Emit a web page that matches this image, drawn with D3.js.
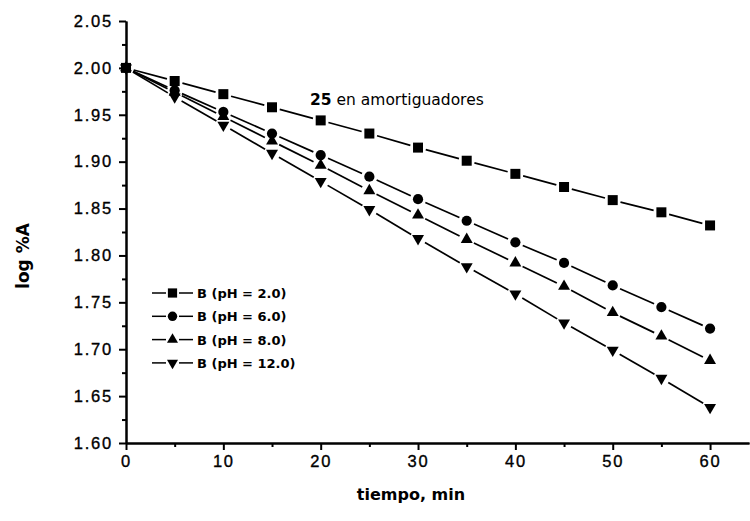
<!DOCTYPE html>
<html lang="es">
<head>
  <meta charset="UTF-8">
  <title>25 en amortiguadores</title>
  <script src="https://d3js.org/d3.v7.min.js"></script>
  <style>
    body { margin: 0; background: #fff; }
    svg { display: block; font-family: 'DejaVu Sans', sans-serif; }
    .axis text { font-size: 16.5px; letter-spacing: 1.8px; fill: #000; stroke: #000; stroke-width: 0.35px; }
    .axis path, .axis line { stroke: #000; stroke-width: 2; }
    .legend text { font-size: 13px; font-weight: bold; fill: #000; }
  </style>
</head>
<body>

<svg width="750" height="521"></svg>

<script>
  // data
  const tiempo = [0, 5, 10, 15, 20, 25, 30, 35, 40, 45, 50, 55, 60];
  const ph2  = [2.000, 1.986, 1.972, 1.958, 1.944, 1.930, 1.915, 1.901, 1.887, 1.873, 1.859, 1.846, 1.832];
  const ph6  = [2.000, 1.976, 1.953, 1.930, 1.907, 1.884, 1.860, 1.837, 1.814, 1.792, 1.768, 1.745, 1.722];
  const ph8  = [2.000, 1.974, 1.948, 1.922, 1.896, 1.869, 1.843, 1.817, 1.792, 1.767, 1.739, 1.714, 1.688];
  const ph12 = [2.000, 1.969, 1.939, 1.909, 1.879, 1.849, 1.818, 1.788, 1.759, 1.728, 1.699, 1.669, 1.638];
  const seriesNames = ["B (pH = 2.0)", "B (pH = 6.0)", "B (pH = 8.0)", "B (pH = 12.0)"];
  const xTicks = [0, 10, 20, 30, 40, 50, 60];
  const xMinor = [5, 15, 25, 35, 45, 55];
  const yTicks = [1.60, 1.65, 1.70, 1.75, 1.80, 1.85, 1.90, 1.95, 2.00, 2.05];
  const yMinor = [1.625, 1.675, 1.725, 1.775, 1.825, 1.875, 1.925, 1.975, 2.025];

  const svg = d3.select("svg");
  const mLeft = 126, mRight = 749, mTop = 21, mBottom = 443;

  const x = d3.scaleLinear().domain([0, 64]).range([mLeft, mRight]);
  const y = d3.scaleLinear().domain([1.60, 2.05]).range([mBottom, mTop]);

  // axes (minor first, then major with labels)
  svg.append("g").attr("class", "axis")
    .attr("transform", `translate(0,${mBottom})`)
    .call(d3.axisBottom(x).tickValues(xMinor).tickSize(4).tickSizeOuter(0).tickFormat(""));
  svg.append("g").attr("class", "axis")
    .attr("transform", `translate(0,${mBottom})`)
    .call(d3.axisBottom(x).tickValues(xTicks).tickSize(7).tickSizeOuter(0).tickPadding(5).tickFormat(d3.format("d")));
  svg.append("g").attr("class", "axis")
    .attr("transform", `translate(${mLeft},0)`)
    .call(d3.axisLeft(y).tickValues(yMinor).tickSize(4).tickSizeOuter(0).tickFormat(""));
  svg.append("g").attr("class", "axis")
    .attr("transform", `translate(${mLeft},0)`)
    .call(d3.axisLeft(y).tickValues(yTicks).tickSize(7).tickSizeOuter(0).tickPadding(6).tickFormat(d3.format(".2f")));

  // downward triangle symbol
  const triDown = {
    draw(ctx, size) {
      const s = Math.sqrt(size / (3 * Math.sqrt(3)));
      ctx.moveTo(0, 2 * s);
      ctx.lineTo(-Math.sqrt(3) * s, -s);
      ctx.lineTo(Math.sqrt(3) * s, -s);
      ctx.closePath();
    }
  };
  const series = [
    { name: seriesNames[0], values: ph2,  sym: d3.symbolSquare,   size: 100 },
    { name: seriesNames[1], values: ph6,  sym: d3.symbolCircle,   size: 82 },
    { name: seriesNames[2], values: ph8,  sym: d3.symbolTriangle, size: 62 },
    { name: seriesNames[3], values: ph12, sym: triDown,           size: 62 }
  ];

  const gap = 8;
  function gappedSegments(pts) {
    const segs = [];
    for (let i = 0; i < pts.length - 1; i++) {
      const [x1, y1] = pts[i], [x2, y2] = pts[i + 1];
      const dx = x2 - x1, dy = y2 - y1, len = Math.hypot(dx, dy);
      if (len <= 2 * gap) continue;
      const ux = dx / len, uy = dy / len;
      segs.push([x1 + ux * gap, y1 + uy * gap, x2 - ux * gap, y2 - uy * gap]);
    }
    return segs;
  }

  // draw in reverse so the squares sit on top at t = 0
  series.slice().reverse().forEach(s => {
    const g = svg.append("g");
    const pts = tiempo.map((t, i) => [x(t), y(s.values[i])]);
    g.selectAll("line").data(gappedSegments(pts)).enter().append("line")
      .attr("x1", d => d[0]).attr("y1", d => d[1])
      .attr("x2", d => d[2]).attr("y2", d => d[3])
      .attr("stroke", "#000").attr("stroke-width", 1.7);
    g.selectAll("path").data(pts).enter().append("path")
      .attr("d", d3.symbol().type(s.sym).size(s.size))
      .attr("transform", d => `translate(${d[0]},${d[1]})`)
      .attr("fill", "#000");
  });

  // legend
  const legend = svg.append("g").attr("class", "legend");
  series.forEach((s, i) => {
    const ly = 293 + i * 23.3;
    legend.append("line").attr("x1", 152).attr("x2", 166).attr("y1", ly).attr("y2", ly)
      .attr("stroke", "#000").attr("stroke-width", 1.5);
    legend.append("line").attr("x1", 179).attr("x2", 193).attr("y1", ly).attr("y2", ly)
      .attr("stroke", "#000").attr("stroke-width", 1.5);
    legend.append("path")
      .attr("d", d3.symbol().type(s.sym).size(s.size * 0.85))
      .attr("transform", `translate(172.5,${ly})`)
      .attr("fill", "#000");
    legend.append("text").attr("x", 197).attr("y", ly + 5).text(s.name);
  });

  // title and axis labels
  const title = svg.append("text").attr("x", 310).attr("y", 105)
    .style("font-size", "15.5px").attr("fill", "#000");
  title.append("tspan").style("font-weight", "bold").text("25");
  title.append("tspan").text(" en amortiguadores");

  svg.append("text").attr("x", 411).attr("y", 500).attr("text-anchor", "middle")
    .style("font-size", "16px").style("font-weight", "bold").text("tiempo, min");

  svg.append("text").attr("transform", "translate(29,256) rotate(-90)").attr("text-anchor", "middle")
    .style("font-size", "17px").style("font-weight", "bold").text("log %A");
</script>

</body>
</html>
